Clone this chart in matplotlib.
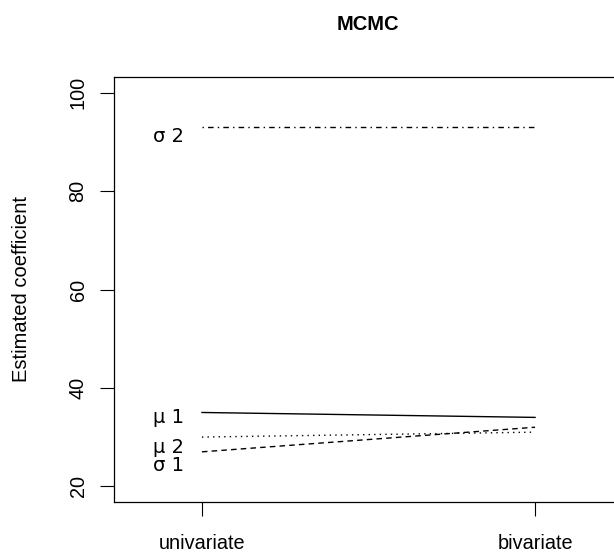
import matplotlib
matplotlib.use("Agg")
import matplotlib.pyplot as plt

plt.rcParams['font.family'] = ['Liberation Sans', 'DejaVu Sans']

# data
methods = ["univariate", "bivariate"]
mu1 = [35, 34]
mu2 = [30, 31]
sigma1 = [27, 32]
sigma2 = [93, 93]

labels = ["\u03bc 1", "\u03bc 2", "\u03c3 1", "\u03c3 2"]
label_y = [34.0, 27.9, 24.3, 91.1]

fig = plt.figure(figsize=(6.14, 5.55), dpi=100)
ax = fig.add_axes([114/614, 1 - 502/555, (623 - 114)/614, (502 - 77)/555])

xs = [1, 2]
ax.plot(xs, mu1, color="black", lw=1, ls="-")
ax.plot(xs, mu2, color="black", lw=1, ls=(0, (1, 3)))
ax.plot(xs, sigma1, color="black", lw=1, ls=(0, (4, 3)))
ax.plot(xs, sigma2, color="black", lw=1, ls=(0, (1, 3, 4, 3)))

# greek labels drawn in a wider font, like R's symbol font
for lab, yy in zip(labels, label_y):
    ax.text(0.945, yy, lab, ha="right", va="center", fontsize=14,
            family="DejaVu Sans")

ax.set_xlim(0.736, 2.264)
ax.set_ylim(16.8, 103.2)
ax.set_xticks(xs)
ax.set_xticklabels(methods)
ax.set_yticks([20, 40, 60, 80, 100])
ax.set_yticklabels(["20", "40", "60", "80", "100"], rotation=90, va="center")
ax.tick_params(length=10, width=0.8, labelsize=14.3)
ax.tick_params(axis="x", pad=13)
ax.tick_params(axis="y", pad=9)
ax.set_ylabel("Estimated coefficient", fontsize=14.5)
ax.yaxis.set_label_coords(-(114 - 31)/509, 0.5)
for s in ax.spines.values():
    s.set_linewidth(0.9)

fig.text(368/614, 1 - 24/555, "MCMC", ha="center", va="center",
         fontsize=14.5, fontweight="bold")

fig.savefig("out.png", dpi=100)
